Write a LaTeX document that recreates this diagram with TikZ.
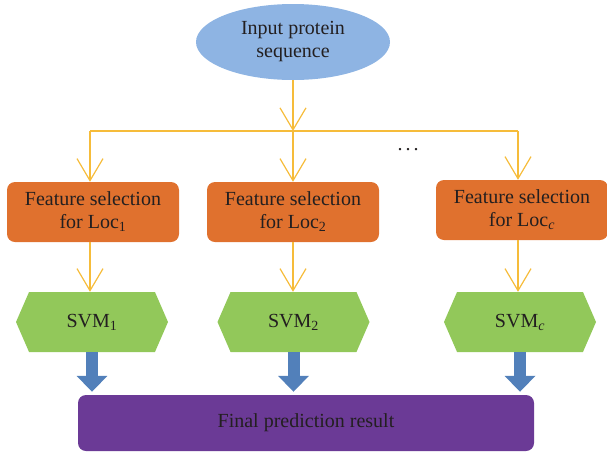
\documentclass[tikz,border=0pt]{standalone}
\usepackage{fontspec}
\setmainfont{Liberation Serif}
\usetikzlibrary{arrows.meta,shapes.geometric,shapes.symbols}
\definecolor{ellblue}{HTML}{8EB4E3}
\definecolor{boxorange}{HTML}{E0712E}
\definecolor{hexgreen}{HTML}{92C85A}
\definecolor{finpurple}{HTML}{6B3A96}
\definecolor{arrblue}{HTML}{5280BA}
\definecolor{lineyel}{HTML}{F6BC3A}
\definecolor{txt}{HTML}{231F20}
\tikzset{
  tfont/.style={text=txt,font=\fontsize{20}{23}\selectfont},
  ellnode/.style={ellipse,fill=ellblue,minimum width=194pt,minimum height=76pt,inner sep=0pt,align=center,tfont},
  featbox/.style={rectangle,rounded corners=8pt,fill=boxorange,minimum width=172pt,minimum height=60pt,inner sep=0pt,align=center,tfont},
  svmbox/.style={signal,signal to=west and east,signal pointer angle=133,fill=hexgreen,minimum width=152pt,minimum height=60pt,inner sep=0pt,tfont},
  finbox/.style={rectangle,rounded corners=8pt,fill=finpurple,minimum width=456pt,minimum height=56pt,inner sep=0pt,tfont},
  yline/.style={draw=lineyel,line width=1.2pt},
  yarrow/.style={yline,-{Straight Barb[length=22pt,width=26pt,line width=1.2pt]}},
  barrow/.style={draw=arrblue,line width=12pt,-{Triangle[length=16pt,width=30pt]},shorten >=3pt},
}
\begin{document}
\begin{tikzpicture}[x=1pt,y=-1pt]
\useasboundingbox (0,0) rectangle (607,453);
\node[ellnode] (inp) at (293,42) {Input protein\\sequence};
\node[featbox] (f1) at (93,212) {Feature selection\\for Loc\textsubscript{1}};
\node[featbox] (f2) at (293,212) {Feature selection\\for Loc\textsubscript{2}};
\node[featbox] (f3) at (522,210) {Feature selection\\for Loc\textsubscript{\textit{c}}};
\node[svmbox] (s1) at (92,322) {SVM\textsubscript{1}};
\node[svmbox] (s2) at (293.5,322) {SVM\textsubscript{2}};
\node[svmbox] (s3) at (520,322) {SVM\textsubscript{\textit{c}}};
\node[finbox] (fin) at (306,423) {Final prediction result};
\node[tfont] (dots) at (408,150) {.\hspace{3pt}.\hspace{3pt}.};
\coordinate (jc) at (293,131);
\coordinate (jl) at (90,131);
\coordinate (jr) at (518,131);
\draw[yarrow] (inp.south) -- (jc);
\draw[yline] (jl) -- (jr);
\draw[yarrow] (jl) -- (jl |- f1.north);
\draw[yarrow] (jc) -- (jc |- f2.north);
\draw[yarrow] (jr) -- (jr |- f3.north);
\draw[yarrow] (f1.south -| jl) -- (jl |- s1.north);
\draw[yarrow] (f2.south) -- (f2.south |- s2.north);
\draw[yarrow] (f3.south -| jr) -- (jr |- s3.north);
\draw[barrow] (s1.south) -- (s1.south |- fin.north);
\draw[barrow] (s2.south) -- (s2.south |- fin.north);
\draw[barrow] (s3.south) -- (s3.south |- fin.north);
\end{tikzpicture}
\end{document}
